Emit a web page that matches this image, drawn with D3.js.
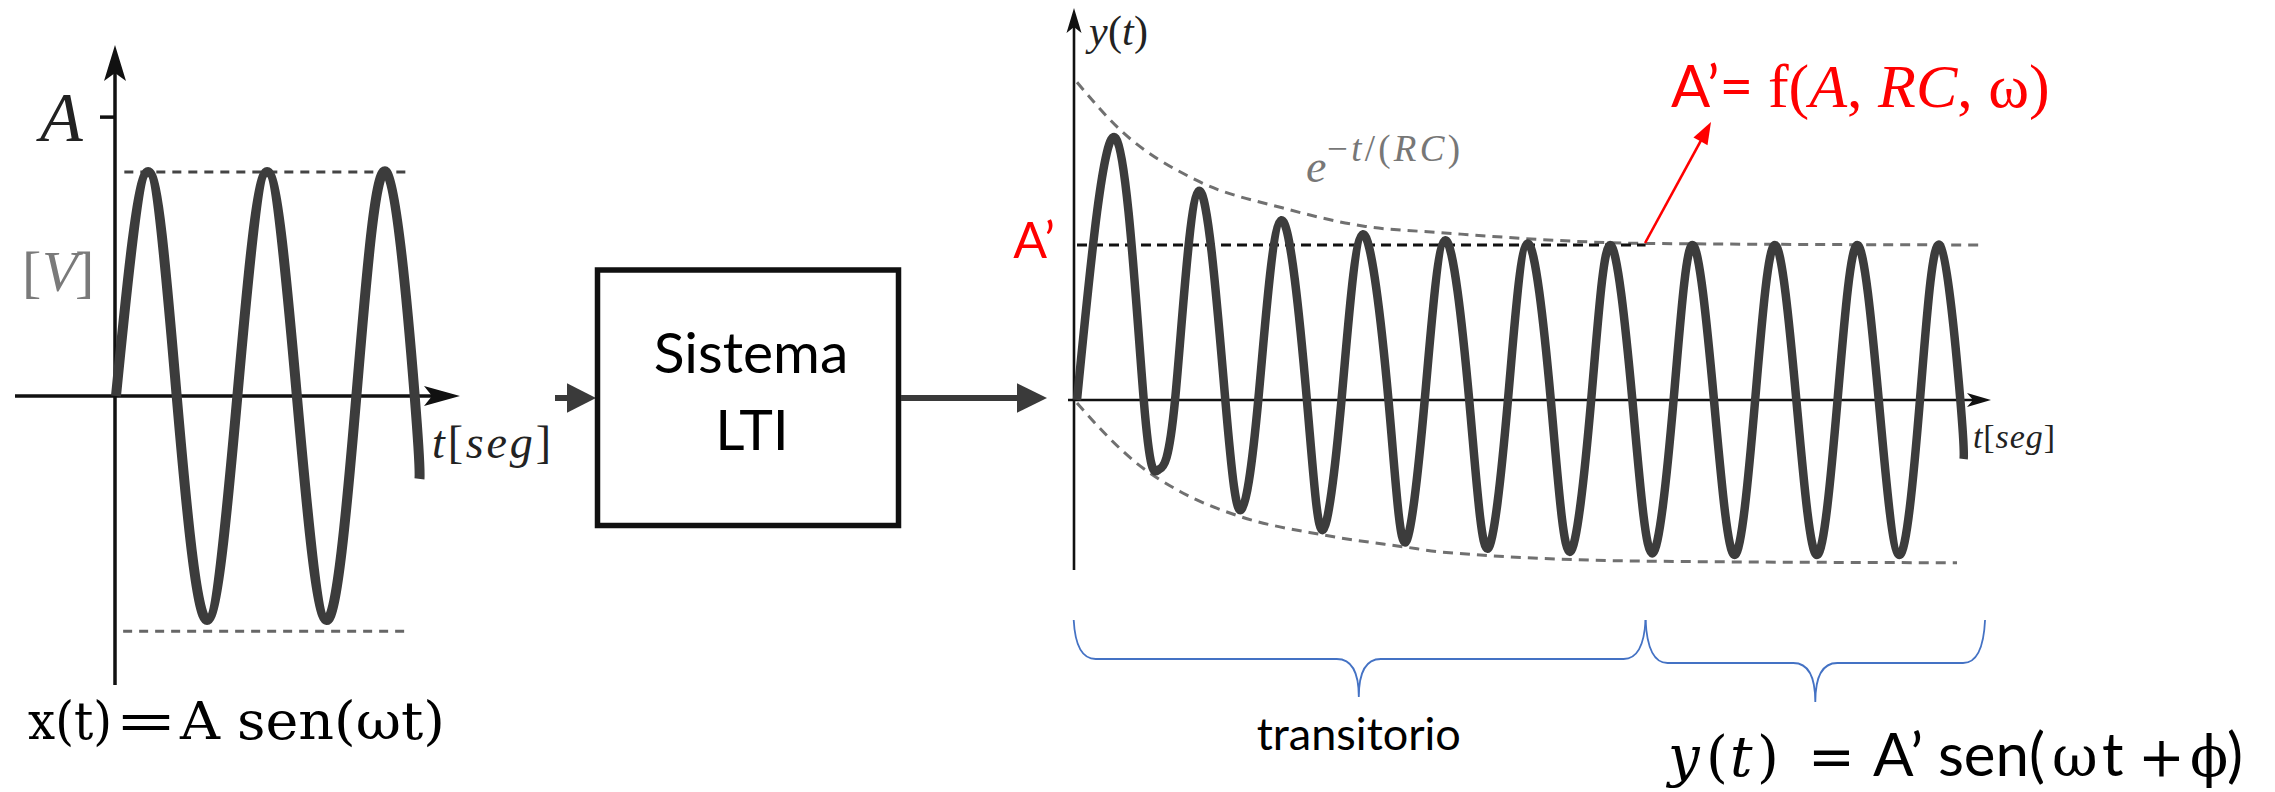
<!DOCTYPE html>
<html>
<head>
<meta charset="utf-8">
<script src="https://cdn.jsdelivr.net/npm/d3@7"></script>
<style>
  html, body { margin: 0; padding: 0; background: #fff; }
  svg { display: block; }
</style>
</head>
<body>
<svg id="chart" width="2275" height="792"></svg>
<script>
// ---------------- data ----------------
// Input x(t) = A sen(ωt): extrema and zero crossings (t in periods, value in units of A)
const inT = [0, 0.27, 0.51, 0.765, 1.02, 1.27, 1.52, 1.77, 2.02, 2.27, 2.51, 2.55];
const inV = [0, 1, 0, -1, 0, 1, 0, -1, 0, 1, 0, -0.37];
// dashed amplitude guides of the input
const inGuideV = [1.0, -1.05];
const inGuideT0 = [0.07, 0.06];
const inGuideT1 = [2.49, 2.47];
// tick on the input amplitude axis
const inTickV = [1.245];
const inTickLabel = ["A"];

// Output y(t): extrema and zero crossings (t in periods, value in units of A')
const outT = [0, 0.47, 0.81, 0.99, 1.19, 1.48, 1.80, 1.99, 2.20, 2.48, 2.79, 2.98, 3.21,
              3.47, 3.78, 3.98, 4.22, 4.47, 4.76, 4.98, 5.23, 5.47, 5.75, 5.98, 6.24,
              6.47, 6.74, 6.98, 7.24, 7.47, 7.73, 7.98, 8.23, 8.47, 8.73, 8.98, 9.23,
              9.47, 9.73, 9.98, 10.23, 10.47, 10.72, 10.76];
const outV = [0, 1.69, 0, -0.45, 0, 1.35, 0, -0.71, 0, 1.16, 0, -0.84, 0,
              1.07, 0, -0.92, 0, 1.03, 0, -0.96, 0, 1.01, 0, -0.98, 0,
              1.0, 0, -0.99, 0, 1.0, 0, -1.0, 0, 1.0, 0, -1.0, 0,
              1.0, 0, -1.0, 0, 1.0, 0, -0.38];
// decaying envelopes e^{-t/(RC)} around the output
const upEnvT = [0, 0.49, 1.48, 2.49, 3.50, 4.41, 6.93, 11.02];
const upEnvV = [2.05, 1.76, 1.41, 1.24, 1.12, 1.08, 1.01, 1.0];
const loEnvT = [0, 0.10, 0.73, 1.25, 1.97, 2.98, 4.0, 4.41, 6.95, 10.68];
const loEnvV = [-0.02, -0.08, -0.41, -0.59, -0.75, -0.87, -0.95, -0.98, -1.04, -1.05];
// steady-state amplitude A'
const steadyV = [1.0];
const steadyT = [0, 6.9];
// braces: transient part and steady-state part
const braceT0 = [-0.04, 6.9];
const braceT1 = [6.9, 11.02];
const braceTipT = [3.42, 8.96];
const braceLabels = ["transitorio", ""];

// ---------------- scales ----------------
const xL = d3.scaleLinear().domain([0, 1]).range([116, 235]);
const yL = d3.scaleLinear().domain([-1, 1]).range([620, 172]);
const xR = d3.scaleLinear().domain([0, 1]).range([1077, 1159.4]);
const yR = d3.scaleLinear().domain([0, 1]).range([400, 245]);

const svg = d3.select("#chart");
const INK = "#111";
const WAVE = "#3c3c3c";
const SERIF = "'Liberation Serif', 'DejaVu Serif', serif";
const MATH = "'DejaVu Serif', 'Liberation Serif', serif";
const SANS = "Lato, 'Open Sans', sans-serif";
const RED = "#ff0000";

// stealth-style arrowhead pointing in direction (dx,dy)
function arrowHead(g, tipX, tipY, dx, dy, len, half, inset, fill) {
  const px = -dy, py = dx;
  const bx = tipX - dx * len, by = tipY - dy * len;
  const ix = tipX - dx * (len - inset), iy = tipY - dy * (len - inset);
  g.append("path")
    .attr("d", `M${tipX},${tipY} L${bx + px * half},${by + py * half} L${ix},${iy} L${bx - px * half},${by - py * half} Z`)
    .attr("fill", fill);
}

// ---------------- input signal ----------------
const gL = svg.append("g");
// guides
inGuideV.forEach((v, i) => {
  gL.append("line")
    .attr("x1", xL(inGuideT0[i])).attr("x2", xL(inGuideT1[i]))
    .attr("y1", yL(v)).attr("y2", yL(v))
    .attr("stroke", i === 0 ? "#444" : "#666")
    .attr("stroke-width", 3)
    .attr("stroke-dasharray", "9,7");
});
// axes
const axL0 = xL(0) - 1;
gL.append("line").attr("x1", 15).attr("x2", 452).attr("y1", yL(0)).attr("y2", yL(0))
  .attr("stroke", INK).attr("stroke-width", 3.5);
arrowHead(gL, 460, yL(0), 1, 0, 36, 10, 8, INK);
gL.append("line").attr("x1", axL0).attr("x2", axL0).attr("y1", 685).attr("y2", 60)
  .attr("stroke", INK).attr("stroke-width", 3.5);
arrowHead(gL, axL0, 45, 0, -1, 36, 11, 8, INK);
inTickV.forEach((v, i) => {
  gL.append("line").attr("x1", axL0 - 15).attr("x2", axL0).attr("y1", yL(v)).attr("y2", yL(v))
    .attr("stroke", INK).attr("stroke-width", 3.5);
  gL.append("text").attr("x", 40).attr("y", yL(v) + 24)
    .attr("font-family", SERIF).attr("font-style", "italic").attr("font-size", 70)
    .attr("fill", "#222").text(inTickLabel[i]);
});
// wave
const inPts = inT.map((t, i) => [xL(t), yL(inV[i])]);
gL.append("path")
  .attr("d", d3.line().curve(d3.curveNatural)(inPts))
  .attr("fill", "none").attr("stroke", WAVE).attr("stroke-width", 10);
// unit label [V]
const unitParts = [
  { s: "[", x: 22, it: false },
  { s: "V", x: 42, it: true },
  { s: "]", x: 75, it: false }
];
unitParts.forEach(p => {
  gL.append("text").attr("x", p.x).attr("y", 291)
    .attr("font-family", SERIF).attr("font-size", 58).attr("fill", "#7a7a7a")
    .attr("font-style", p.it ? "italic" : "normal").text(p.s);
});
// time label
function timeLabel(g, x, y, size, len) {
  const t = g.append("text").attr("x", x).attr("y", y)
    .attr("font-family", SERIF).attr("font-size", size).attr("fill", "#222")
    .attr("textLength", len).attr("lengthAdjust", "spacing");
  t.append("tspan").attr("font-style", "italic").text("t");
  t.append("tspan").text("[");
  t.append("tspan").attr("font-style", "italic").text("seg");
  t.append("tspan").text("]");
}
timeLabel(gL, 432, 458, 46, 119);

// equation x(t)=A sen(ωt)
const eqL = [
  { s: "x(t)", x: 28, len: 84 },
  { s: "=", x: 115, len: 62 },
  { s: "A", x: 180, len: 40 },
  { s: "sen(ωt)", x: 237, len: 208 }
];
eqL.forEach(p => {
  svg.append("text").attr("x", p.x).attr("y", 739)
    .attr("font-family", MATH).attr("font-size", 52).attr("fill", "#000")
    .attr("textLength", p.len).attr("lengthAdjust", "spacingAndGlyphs").text(p.s);
});

// ---------------- system block ----------------
const AR = "#3a3a3a";
svg.append("line").attr("x1", 555).attr("x2", 570).attr("y1", 398).attr("y2", 398)
  .attr("stroke", AR).attr("stroke-width", 6);
arrowHead(svg, 596, 398, 1, 0, 29, 14.7, 0, AR);
svg.append("rect").attr("x", 597.5).attr("y", 270).attr("width", 301).attr("height", 255.5)
  .attr("fill", "none").attr("stroke", INK).attr("stroke-width", 5.5);
svg.append("text").attr("x", 751).attr("y", 373).attr("text-anchor", "middle")
  .attr("font-family", SANS).attr("font-size", 57).attr("fill", "#000").text("Sistema");
svg.append("text").attr("x", 752).attr("y", 450).attr("text-anchor", "middle")
  .attr("font-family", SANS).attr("font-size", 57).attr("fill", "#000").text("LTI");
svg.append("line").attr("x1", 901).attr("x2", 1020).attr("y1", 398).attr("y2", 398)
  .attr("stroke", AR).attr("stroke-width", 6);
arrowHead(svg, 1047, 398, 1, 0, 30, 14.7, 0, AR);

// ---------------- output signal ----------------
const gR = svg.append("g");
const axR0 = xR(0) - 3;
const envLine = d3.line().curve(d3.curveMonotoneX);
// envelopes
gR.append("path")
  .attr("d", envLine(upEnvT.map((t, i) => [xR(t), yR(upEnvV[i])])))
  .attr("fill", "none").attr("stroke", "#707070").attr("stroke-width", 3)
  .attr("stroke-dasharray", "10,7");
gR.append("path")
  .attr("d", envLine(loEnvT.map((t, i) => [xR(t), yR(loEnvV[i])])))
  .attr("fill", "none").attr("stroke", "#707070").attr("stroke-width", 3)
  .attr("stroke-dasharray", "10,7");
// steady-state amplitude line
gR.append("line").attr("x1", xR(steadyT[0])).attr("x2", xR(steadyT[1]))
  .attr("y1", yR(steadyV[0])).attr("y2", yR(steadyV[0]))
  .attr("stroke", "#111").attr("stroke-width", 3).attr("stroke-dasharray", "10,6");
// axes
gR.append("line").attr("x1", axR0 - 6).attr("x2", 1980).attr("y1", yR(0)).attr("y2", yR(0))
  .attr("stroke", INK).attr("stroke-width", 2.6);
arrowHead(gR, 1991, yR(0), 1, 0, 24, 7, 6, INK);
gR.append("line").attr("x1", axR0).attr("x2", axR0).attr("y1", 570).attr("y2", 20)
  .attr("stroke", INK).attr("stroke-width", 2.6);
arrowHead(gR, axR0, 8, 0, -1, 25, 7.5, 6, INK);
// wave
gR.append("path")
  .attr("d", d3.line().curve(d3.curveNatural)(outT.map((t, i) => [xR(t), yR(outV[i])])))
  .attr("fill", "none").attr("stroke", WAVE).attr("stroke-width", 8.5);

// labels
const yLab = gR.append("text").attr("x", 1089).attr("y", 45)
  .attr("font-family", SERIF).attr("font-size", 42).attr("fill", "#222")
  .attr("textLength", 59).attr("lengthAdjust", "spacing");
yLab.append("tspan").attr("font-style", "italic").text("y");
yLab.append("tspan").text("(");
yLab.append("tspan").attr("font-style", "italic").text("t");
yLab.append("tspan").text(")");
timeLabel(gR, 1973, 448, 34, 82);

gR.append("text").attr("x", 1306).attr("y", 182)
  .attr("font-family", SERIF).attr("font-style", "italic").attr("font-size", 46)
  .attr("fill", "#777").text("e");
const sup = gR.append("text").attr("x", 1327).attr("y", 161)
  .attr("font-family", SERIF).attr("font-size", 37).attr("fill", "#777")
  .attr("textLength", 133).attr("lengthAdjust", "spacing");
sup.append("tspan").text("−");
sup.append("tspan").attr("font-style", "italic").text("t");
sup.append("tspan").text("/(");
sup.append("tspan").attr("font-style", "italic").text("RC");
sup.append("tspan").text(")");

// A' marker
gR.append("text").attr("x", 1055).attr("y", 258).attr("text-anchor", "end")
  .attr("font-family", SANS).attr("font-size", 50).attr("fill", RED).text("A’");

// A' = f(A, RC, ω)
const fLab = gR.append("text").attr("x", 1671).attr("y", 107)
  .attr("font-size", 62).attr("fill", RED);
fLab.append("tspan").attr("font-family", SANS).attr("font-size", 58).text("A’= ");
fLab.append("tspan").attr("font-family", SERIF).text("f(");
fLab.append("tspan").attr("font-family", SERIF).attr("font-style", "italic").text("A");
fLab.append("tspan").attr("font-family", SERIF).text(", ");
fLab.append("tspan").attr("font-family", SERIF).attr("font-style", "italic").text("RC");
fLab.append("tspan").attr("font-family", SERIF).text(", ω)");
// pointer to the steady-state line
const ax0 = xR(steadyT[1]) - 0.5, ay0 = yR(steadyV[0]) - 2;
const ax1 = 1711, ay1 = 122;
const alen = Math.hypot(ax1 - ax0, ay1 - ay0);
const adx = (ax1 - ax0) / alen, ady = (ay1 - ay0) / alen;
gR.append("line").attr("x1", ax0).attr("y1", ay0)
  .attr("x2", ax1 - adx * 18).attr("y2", ay1 - ady * 18)
  .attr("stroke", RED).attr("stroke-width", 2.6);
arrowHead(gR, ax1, ay1, adx, ady, 22, 8, 0, RED);

// braces
const braceMid = [659, 663];
const braceTipY = [697, 702];
braceT0.forEach((t0, i) => {
  const x0 = xR(t0), x1 = xR(braceT1[i]), xm = xR(braceTipT[i]);
  const yTop = 620, yM = braceMid[i], yT = braceTipY[i], r = 22;
  const p = d3.path();
  p.moveTo(x0, yTop);
  p.quadraticCurveTo(x0 + 2, yM, x0 + r, yM);
  p.lineTo(xm - r, yM);
  p.quadraticCurveTo(xm, yM, xm, yT);
  p.quadraticCurveTo(xm, yM, xm + r, yM);
  p.lineTo(x1 - r, yM);
  p.quadraticCurveTo(x1 - 2, yM, x1, yTop);
  gR.append("path").attr("d", p.toString())
    .attr("fill", "none").attr("stroke", "#4472c4").attr("stroke-width", 1.8);
  if (braceLabels[i]) {
    gR.append("text").attr("x", xm).attr("y", 750).attr("text-anchor", "middle")
      .attr("font-family", SANS).attr("font-size", 45).attr("fill", "#000").text(braceLabels[i]);
  }
});

// equation y(t) = A' sen(ωt + ϕ)
const eqR = [
  { s: "y", x: 1668, f: MATH, it: true, fs: 56 },
  { s: "(", x: 1706, f: MATH, fs: 56 },
  { s: "t", x: 1730, f: MATH, it: true, fs: 56 },
  { s: ")", x: 1757, f: MATH, fs: 56 },
  { s: "=", x: 1808, f: MATH, fs: 56 },
  { s: "A’ sen(", x: 1873, f: SANS, fs: 60 },
  { s: "ω", x: 2052, f: MATH, fs: 56 },
  { s: "t", x: 2102, f: SANS, fs: 60 },
  { s: "+", x: 2138, f: MATH, fs: 56 },
  { s: "ϕ", x: 2190, f: MATH, fs: 56 },
  { s: ")", x: 2227, f: SANS, fs: 60 }
];
eqR.forEach(p => {
  svg.append("text").attr("x", p.x).attr("y", 776)
    .attr("font-family", p.f).attr("font-style", p.it ? "italic" : "normal")
    .attr("font-size", p.fs).attr("fill", "#000").text(p.s);
});
</script>
</body>
</html>
